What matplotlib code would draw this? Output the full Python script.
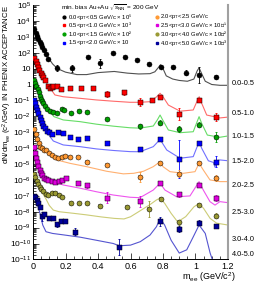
import numpy as np
import matplotlib
matplotlib.use('Agg')
import matplotlib.pyplot as plt
from matplotlib.patches import Rectangle
from matplotlib.ticker import FixedLocator, FixedFormatter, NullFormatter
import matplotlib.transforms as mtrans

plt.rcParams['font.family'] = ['Liberation Sans', 'DejaVu Sans']
plt.rcParams['mathtext.fontset'] = 'custom'
plt.rcParams['mathtext.rm'] = 'Liberation Sans'
plt.rcParams['mathtext.it'] = 'Liberation Sans:italic'
plt.rcParams['mathtext.bf'] = 'Liberation Sans:bold'

# ---------------- data (displayed values, scale factors included) ----------------
pt_bins = ["0.0-0.5", "0.5-1.0", "1.0-1.5", "1.5-2.0", "2.0-2.5", "2.5-3.0", "3.0-4.0", "4.0-5.0"]
legend_labels = [
    r"0.0<p$_{\rm T}$<0.5 GeV/c × 10⁵",
    r"0.5<p$_{\rm T}$<1.0 GeV/c × 10³",
    r"1.0<p$_{\rm T}$<1.5 GeV/c × 10²",
    r"1.5<p$_{\rm T}$<2.0 GeV/c × 10",
    r"2.0<p$_{\rm T}$<2.5 GeV/c",
    r"2.5<p$_{\rm T}$<3.0 GeV/c × 10⁻¹",
    r"3.0<p$_{\rm T}$<4.0 GeV/c × 10⁻²",
    r"4.0<p$_{\rm T}$<5.0 GeV/c × 10⁻³",
]

# 0.0-0.5
m0 = [0.008, 0.016, 0.024, 0.032, 0.040, 0.048, 0.056, 0.066, 0.077, 0.094, 0.146, 0.240, 0.340, 0.412, 0.494, 0.566, 0.638, 0.716, 0.785, 0.863, 0.940, 1.022, 1.126]
v0 = [3.0e3, 1.8e3, 1.1e3, 7.1e2, 4.8e2, 3.3e2, 2.3e2, 1.5e2, 89, 38, 10.5, 10.5, 56, 21, 91, 56, 35, 19.5, 12.6, 12, 5.5, 4.2, 2.8]
e0 = [0, 0, 0, 0, 0, 0, 0, 0, 0, 0.05, 0.2, 0.22, 0.05, 0.3, 0.05, 0.05, 0.05, 0.05, 0.08, 0.08, 0.15, 0.5, 0.12]
lm0 = [0.0, 0.02, 0.05, 0.08, 0.10, 0.12, 0.15, 0.20, 0.27, 0.33, 0.40, 0.50, 0.58, 0.65, 0.72, 0.75, 0.77, 0.785, 0.80, 0.82, 0.86, 0.90, 0.95, 0.99, 1.01, 1.022, 1.035, 1.06, 1.10, 1.15, 1.20]
lv0 = [3.5e3, 1.4e3, 3.5e2, 100, 40, 20, 10, 6.0, 4.2, 4.2, 5.6, 6.6, 5.2, 4.6, 4.8, 6.3, 11.2, 17.8, 10, 3.5, 2.2, 1.8, 1.6, 2.2, 7.1, 11.2, 5.6, 1.6, 1.0, 0.89, 0.89]

# 0.5-1.0
m1 = [0.008, 0.016, 0.024, 0.031, 0.039, 0.047, 0.055, 0.063, 0.074, 0.094, 0.105, 0.115, 0.125, 0.146, 0.172, 0.228, 0.295, 0.367, 0.457, 0.560, 0.658, 0.734, 0.782, 0.900, 1.022, 1.126]
v1 = [46, 30, 19, 12.6, 8.1, 5.5, 4.0, 2.8, 1.9, 0.81, 0.63, 0.72, 0.81, 0.79, 0.50, 0.575, 0.60, 0.60, 0.25, 0.32, 0.083, 0.107, 0.17, 0.0138, 0.107, 0.0095]
e1 = [0, 0, 0, 0, 0, 0, 0, 0, 0, 0.03, 0.03, 0.03, 0.03, 0.04, 0.05, 0.05, 0.05, 0.05, 0.2, 0.15, 0.25, 0.12, 0.08, 0.4, 0.12, 0.25]
lm1 = [0.0, 0.02, 0.04, 0.06, 0.084, 0.105, 0.121, 0.135, 0.186, 0.29, 0.39, 0.494, 0.597, 0.658, 0.72, 0.761, 0.782, 0.80, 0.833, 0.905, 0.986, 1.013, 1.023, 1.038, 1.069, 1.15, 1.20]
lv1 = [63, 25, 7.1, 2.8, 1.2, 0.66, 0.35, 0.22, 0.17, 0.135, 0.107, 0.089, 0.076, 0.076, 0.083, 0.17, 0.28, 0.17, 0.051, 0.021, 0.025, 0.107, 0.17, 0.066, 0.012, 0.0079, 0.0089]

# 1.0-1.5
m2 = [0.008, 0.014, 0.021, 0.028, 0.035, 0.041, 0.047, 0.055, 0.063, 0.074, 0.088, 0.105, 0.125, 0.146, 0.176, 0.190, 0.232, 0.285, 0.330, 0.457, 0.658, 0.783, 0.900, 1.023, 1.126]
v2 = [2.0, 1.26, 0.83, 0.54, 0.33, 0.20, 0.126, 0.089, 0.065, 0.044, 0.027, 0.021, 0.018, 0.0166, 0.0295, 0.025, 0.0158, 0.0214, 0.0195, 0.0068, 0.0023, 0.004, 0.00166, 0.003, 0.0005]
e2 = [0, 0, 0, 0, 0, 0, 0, 0, 0, 0, 0.03, 0.03, 0.03, 0.04, 0.04, 0.04, 0.05, 0.05, 0.05, 0.08, 0.15, 0.15, 0.2, 0.15, 0.3]
lm2 = [0.0, 0.02, 0.04, 0.063, 0.09, 0.11, 0.129, 0.186, 0.29, 0.39, 0.494, 0.597, 0.658, 0.74, 0.765, 0.782, 0.798, 0.833, 0.905, 0.986, 1.022, 1.038, 1.073, 1.15, 1.20]
lv2 = [2.5, 0.89, 0.25, 0.071, 0.028, 0.0158, 0.0095, 0.0059, 0.0046, 0.0032, 0.0024, 0.0019, 0.0018, 0.00245, 0.0059, 0.012, 0.0059, 0.00138, 0.00093, 0.00107, 0.0095, 0.0036, 0.00066, 0.00048, 0.00058]

# 1.5-2.0
m3 = [0.008, 0.014, 0.021, 0.027, 0.033, 0.040, 0.047, 0.055, 0.064, 0.074, 0.086, 0.100, 0.115, 0.156, 0.186, 0.228, 0.279, 0.330, 0.455, 0.658, 0.783, 0.900, 1.022, 1.126]
v3 = [0.107, 0.066, 0.04, 0.025, 0.0155, 0.0093, 0.0059, 0.004, 0.00245, 0.00178, 0.00126, 0.001, 0.00079, 0.00107, 0.00085, 0.0005, 0.00039, 0.00042, 0.00021, 9.3e-5, 3.5e-4, 2.1e-5, 2.1e-4, 1.4e-5]
e3 = [0, 0, 0, 0, 0, 0, 0, 0, 0, 0, 0.03, 0.03, 0.04, 0.05, 0.05, 0.05, 0.05, 0.05, 0.08, 0.1, 0.08, 1.2, 0.1, 0.35]
lm3 = [0.0, 0.02, 0.04, 0.06, 0.084, 0.105, 0.125, 0.186, 0.29, 0.39, 0.494, 0.597, 0.658, 0.74, 0.782, 0.823, 0.905, 0.986, 1.022, 1.038, 1.079, 1.11, 1.12, 1.13, 1.15, 1.20]
lv3 = [0.126, 0.035, 0.0089, 0.0028, 0.00107, 0.00052, 0.00028, 0.000158, 0.000123, 8.9e-5, 7.1e-5, 6.0e-5, 5.9e-5, 1.23e-4, 3.5e-4, 7.6e-5, 2.3e-5, 2.9e-5, 2.5e-4, 9.8e-5, 1.6e-5, 1.26e-5, 6.3e-6, 1.6e-5, 1.8e-5, 1.6e-5]

# 2.0-2.5
m4 = [0.008, 0.016, 0.025, 0.035, 0.045, 0.055, 0.066, 0.080, 0.100, 0.118, 0.135, 0.155, 0.176, 0.197, 0.228, 0.279, 0.334, 0.455, 0.658, 0.783, 0.900, 1.023, 1.126]
v4 = [1.6e-3, 7.9e-4, 4.0e-4, 2.0e-4, 1.26e-4, 1.0e-4, 7.9e-5, 7.1e-5, 5.0e-5, 3.5e-5, 2.8e-5, 2.5e-5, 2.8e-5, 3.2e-5, 2.8e-5, 2.8e-5, 1.26e-5, 8.3e-6, 1.5e-6, 1.17e-5, 2.5e-6, 1.17e-5, 1.35e-6]
e4 = [0, 0, 0, 0, 0, 0, 0, 0, 0.03, 0.03, 0.04, 0.04, 0.04, 0.04, 0.05, 0.05, 0.12, 0.05, 0.3, 0.1, 0.2, 0.1, 0.2]
lm4 = [0.0, 0.02, 0.04, 0.06, 0.094, 0.125, 0.146, 0.228, 0.33, 0.453, 0.556, 0.62, 0.68, 0.74, 0.782, 0.80, 0.843, 0.925, 0.997, 1.022, 1.048, 1.089, 1.15, 1.20]
lv4 = [2.0e-3, 5.0e-4, 1.8e-4, 1.0e-4, 4.7e-5, 2.3e-5, 1.8e-5, 1.1e-5, 6.8e-6, 3.5e-6, 2.4e-6, 2.6e-6, 3.5e-6, 6.8e-6, 1.38e-5, 6.8e-6, 3.3e-6, 2.6e-6, 3.3e-6, 1.1e-5, 4.2e-6, 1.0e-6, 7.8e-7, 7.8e-7]

# 2.5-3.0
m5 = [0.008, 0.014, 0.020, 0.027, 0.033, 0.040, 0.047, 0.056, 0.066, 0.080, 0.094, 0.115, 0.135, 0.160, 0.176, 0.200, 0.279, 0.330, 0.455, 0.658, 0.783, 0.900, 1.023, 1.126]
v5 = [1.1e-4, 5.0e-5, 2.5e-5, 1.26e-5, 7.1e-6, 4.2e-6, 2.8e-6, 1.9e-6, 1.4e-6, 1.15e-6, 1.0e-6, 8.3e-7, 7.1e-7, 8.9e-7, 1.0e-6, 1.26e-6, 6.3e-7, 4.5e-7, 7.6e-8, 4.5e-8, 6.0e-7, 1.26e-7, 4.7e-7, 7.1e-8]
e5 = [0, 0, 0, 0, 0, 0, 0, 0, 0, 0, 0.03, 0.03, 0.04, 0.04, 0.04, 0.04, 0.08, 0.15, 0.35, 0.35, 0.1, 0.15, 0.1, 0.2]
lm5 = [0.0, 0.02, 0.04, 0.06, 0.08, 0.105, 0.135, 0.186, 0.29, 0.39, 0.494, 0.597, 0.658, 0.74, 0.782, 0.812, 0.884, 0.966, 1.022, 1.048, 1.089, 1.12, 1.15, 1.20]
lv5 = [1.6e-4, 2.8e-5, 5.0e-6, 2.0e-6, 1.26e-6, 8.9e-7, 7.1e-7, 4.8e-7, 3.0e-7, 1.8e-7, 1.12e-7, 8.1e-8, 7.6e-8, 2.3e-7, 6.2e-7, 2.3e-7, 8.7e-8, 9.8e-8, 7.8e-7, 2.3e-7, 4.3e-8, 2.6e-8, 4.3e-8, 3.7e-8]

# 3.0-4.0
m6 = [0.008, 0.014, 0.022, 0.030, 0.040, 0.050, 0.060, 0.080, 0.094, 0.115, 0.135, 0.160, 0.180, 0.232, 0.285, 0.334, 0.413, 0.577, 0.716, 0.785, 0.900, 1.022, 1.126]
v6 = [2.3e-6, 1.45e-6, 8.9e-7, 5.5e-7, 3.7e-7, 2.7e-7, 2.1e-7, 1.3e-7, 1.12e-7, 1.4e-7, 1.5e-7, 1.12e-7, 8.9e-8, 3.5e-8, 3.3e-8, 3.3e-8, 2.3e-8, 2.0e-8, 1.4e-8, 6.3e-8, 2.2e-9, 2.8e-8, 5.5e-9]
e6 = [0, 0, 0, 0, 0, 0, 0, 0, 0.03, 0.03, 0.03, 0.04, 0.04, 0.1, 0.1, 0.1, 0.08, 0.05, 0.5, 0.12, 0.15, 0.1, 0.15]
lm6 = [0.0, 0.02, 0.05, 0.08, 0.10, 0.125, 0.16, 0.25, 0.33, 0.42, 0.50, 0.56, 0.60, 0.658, 0.72, 0.76, 0.782, 0.81, 0.85, 0.89, 0.94, 0.99, 1.022, 1.05, 1.09, 1.13, 1.20]
lv6 = [3.2e-6, 8.9e-7, 2.0e-7, 6.3e-8, 2.5e-8, 1.26e-8, 1.0e-8, 7.9e-9, 6.3e-9, 4.7e-9, 3.8e-9, 3.5e-9, 4.8e-9, 1.12e-8, 2.8e-8, 5.5e-8, 7.2e-8, 3.4e-8, 7.9e-9, 2.3e-9, 4.9e-9, 2.0e-8, 3.4e-8, 1.6e-8, 3.8e-9, 1.9e-9, 1.45e-9]

# 4.0-5.0
m7 = [0.006, 0.014, 0.022, 0.030, 0.040, 0.053, 0.068, 0.100, 0.121, 0.146, 0.170, 0.195, 0.260, 0.530, 0.782, 0.900, 1.022, 1.126]
v7 = [1.0e-7, 7.9e-8, 5.6e-8, 3.5e-8, 2.0e-8, 5.0e-9, 7.6e-9, 3.8e-9, 3.8e-9, 1.6e-9, 2.6e-9, 2.6e-9, 5.6e-10, 6.3e-11, 2.5e-9, 7.9e-10, 2.0e-9, 1.26e-9]
e7 = [0, 0, 0, 0, 0, 0.3, 0.05, 0.05, 0.05, 0.15, 0.1, 0.1, 0.2, 0.5, 0.3, 0.2, 0.15, 0.15]
lm7 = [0.0, 0.02, 0.043, 0.06, 0.08, 0.12, 0.186, 0.29, 0.39, 0.494, 0.53, 0.60, 0.66, 0.72, 0.76, 0.782, 0.81, 0.85, 0.90, 0.946, 0.986, 1.022, 1.06, 1.09, 1.11]
lv7 = [1.26e-7, 5.0e-8, 7.9e-9, 1.45e-9, 5.5e-10, 4.3e-10, 3.5e-10, 2.5e-10, 1.6e-10, 1.0e-10, 7.2e-11, 7.9e-11, 1.3e-10, 3.4e-10, 1.15e-9, 3.8e-9, 1.45e-9, 1.6e-10, 2.5e-11, 4.0e-11, 2.6e-10, 1.45e-9, 4.3e-10, 2.5e-11, 6.3e-12]

# ---------------- styles ----------------
marker_colors = ['#000000', '#ff0000', '#00a000', '#0000ff', '#ff9933', '#dd00dd', '#999933', '#000099']
line_colors = ['#505050', '#ff6a6a', '#66dd66', '#7070ff', '#ffb070', '#ee55ee', '#cccc77', '#5555d0']
markers = ['o', 's', 'o', 's', 'o', 's', 'o', 's']

series = [(m0, v0, e0, lm0, lv0), (m1, v1, e1, lm1, lv1), (m2, v2, e2, lm2, lv2), (m3, v3, e3, lm3, lv3),
          (m4, v4, e4, lm4, lv4), (m5, v5, e5, lm5, lv5), (m6, v6, e6, lm6, lv6), (m7, v7, e7, lm7, lv7)]

W, H = 262, 288
fig = plt.figure(figsize=(W / 100, H / 100), dpi=100)
ax = fig.add_axes([33 / W, 1 - 259.4 / H, 195 / W, 254.4 / H])
ax.set_xlim(0, 1.2)
ax.set_yscale('log')
ax.set_ylim(1e-11, 1e5)

for i, (m, v, e, lm, lv) in enumerate(series):
    m = np.array(m); v = np.array(v); e = np.array(e)
    ax.plot(lm, lv, color=line_colors[i], lw=0.8, zorder=2)
    # systematic boxes
    for mi, vi, ei in zip(m, v, e):
        if mi > 0.09:
            ax.add_patch(Rectangle((mi - 0.012, vi * 10 ** -0.12), 0.024, vi * (10 ** 0.12 - 10 ** -0.12),
                                   facecolor='#c8c8c8', edgecolor='none', zorder=1))
    lo = v - v * 10.0 ** (-e)
    hi = v * 10.0 ** e - v
    ax.errorbar(m, v, yerr=[lo, hi], fmt='none', ecolor=marker_colors[i], elinewidth=0.6,
                capsize=1.0, capthick=0.6, zorder=3)
    ax.plot(m, v, linestyle='none', marker=markers[i], ms=3.6, mfc=marker_colors[i], mec='black',
            mew=0.35, zorder=4)

# ticks
yt = [10.0 ** k for k in range(-11, 6)]
ylab = [r'$10^{%d}$' % k for k in range(-11, 0)] + ['1', '10'] + [r'$10^{%d}$' % k for k in range(2, 6)]
ax.yaxis.set_major_locator(FixedLocator(yt))
ax.yaxis.set_major_formatter(FixedFormatter(ylab))
ax.yaxis.set_minor_locator(matplotlib.ticker.LogLocator(base=10, subs=np.arange(2, 10), numticks=100))
ax.yaxis.set_minor_formatter(NullFormatter())
ax.set_xticks([0, 0.2, 0.4, 0.6, 0.8, 1.0, 1.2])
ax.set_xticklabels(['0', '0.2', '0.4', '0.6', '0.8', '1', '1.2'])
ax.xaxis.set_minor_locator(matplotlib.ticker.MultipleLocator(0.05))
ax.tick_params(which='both', direction='in', labelsize=6, pad=1.5, width=0.5)
ax.tick_params(which='major', length=4)
ax.tick_params(which='minor', length=2)
ax.tick_params(axis='x', labelsize=6.5, pad=2)
for s in ['left', 'bottom']:
    ax.spines[s].set_linewidth(0.7)
ax.spines['top'].set_visible(False)
ax.spines['right'].set_color('#a0a0a0')
ax.spines['right'].set_linewidth(1.5)

# axis titles
fig.text(7 / W, 1 - 5 / H, r'dN/dm$_{\rm ee}$ (c$^{2}$/GeV) IN PHENIX ACCEPTANCE', rotation=90,
         ha='center', va='top', fontsize=5.6)
fig.text(236 / W, 1 - 277 / H, r'm$_{\rm ee}$ (GeV/c$^{2}$)', ha='right', va='center', fontsize=6.5)

# right labels
trans = mtrans.blended_transform_factory(ax.transAxes, ax.transAxes)
label_y = [0.693, 0.575, 0.485, 0.383, 0.289, 0.186, 0.080, 0.021]
for lab, yy in zip(pt_bins, label_y):
    ax.text(1.02, yy, lab, transform=trans, ha='left', va='center', fontsize=5.3, clip_on=False)

# legend
fig.text(61 / W, 1 - 8 / H, r'min. bias Au+Au $\sqrt{s_{\rm NN}}$ = 200 GeV', ha='left', va='center', fontsize=4.6)
rows = [16.8, 25.4, 34.0, 42.6]
for i, lab in enumerate(legend_labels):
    col = i // 4
    r = rows[i % 4]
    mx = 64 if col == 0 else 157
    fig.lines.append(plt.Line2D([mx / W], [1 - r / H], transform=fig.transFigure, marker=markers[i],
                                ms=2.0, mfc=marker_colors[i], mec=marker_colors[i], linestyle='none'))
    fig.text((mx + 3.5) / W, 1 - r / H, lab, ha='left', va='center', fontsize=4.2)

fig.savefig('out.png', dpi=100)
